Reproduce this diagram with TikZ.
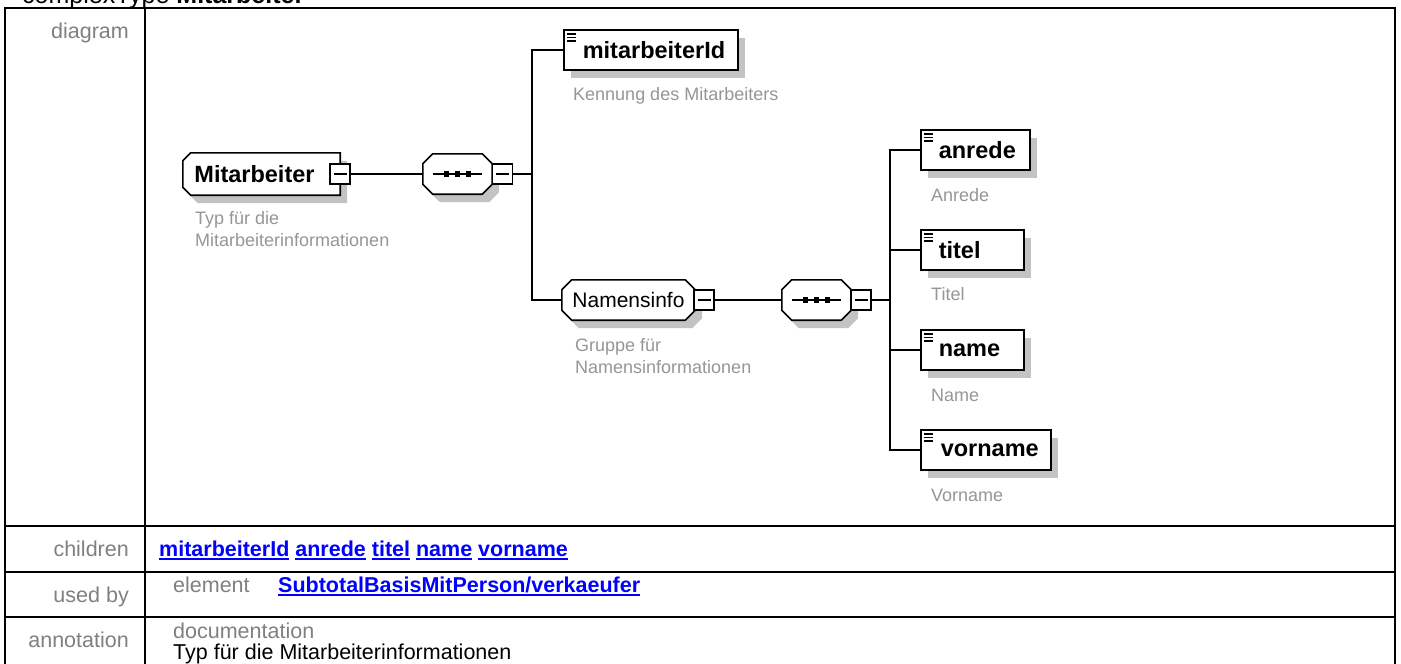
\documentclass[tikz,border=0pt]{standalone}
\usepackage{fontspec}
\setmainfont{Liberation Sans}
\usetikzlibrary{shadows}
\pgfdeclarelayer{background}
\pgfsetlayers{background,main}
\definecolor{descgray}{RGB}{150,150,150}
\definecolor{labgray}{RGB}{128,128,128}
\definecolor{linkblue}{RGB}{0,0,255}
\definecolor{shadowgray}{RGB}{195,195,195}
\newcommand\lnk[1]{\setbox0=\hbox{#1}\rlap{\rule[-3.5pt]{\wd0}{1.8pt}}\box0\relax}
% beveled outline on all four corners: node name, bevel
\newcommand\octoshape[2]{\draw[outl] ([xshift=#2]#1.north west) -- ([xshift=-#2]#1.north east)
  -- ([yshift=-#2]#1.north east) -- ([yshift=#2]#1.south east) -- ([xshift=-#2]#1.south east)
  -- ([xshift=#2]#1.south west) -- ([yshift=#2]#1.south west) -- ([yshift=-#2]#1.north west) -- cycle;}
% beveled outline on the left corners only
\newcommand\leftbevel[2]{\draw[outl] ([xshift=#2]#1.north west) -- (#1.north east) -- (#1.south east)
  -- ([xshift=#2]#1.south west) -- ([yshift=#2]#1.south west) -- ([yshift=-#2]#1.north west) -- cycle;}
\tikzset{
  shd/.style={general shadow={fill=shadowgray, shadow xshift=7pt, shadow yshift=-8pt}},
  outl/.style={draw=black, line width=1.6pt, fill=white, shd},
  elem/.style={rectangle, draw=black, line width=1.6pt, fill=white, minimum height=40pt,
    inner xsep=0pt, inner ysep=0pt, align=left, anchor=west, shd,
    font=\fontsize{23.5pt}{27pt}\selectfont\bfseries,
    path picture={\foreach \k in {4,7.5,11}
      \draw[black, line width=1.4pt] ([xshift=3pt,yshift=-\k pt]path picture bounding box.north west) -- ++(9pt,0pt);}},
  desc/.style={anchor=west, inner sep=0pt, text=descgray, align=left,
    font=\fontsize{18pt}{22pt}\selectfont},
  seqbox/.style={rectangle, minimum width=69pt, minimum height=40pt, inner sep=0pt},
  ctype/.style={rectangle, minimum width=157pt, minimum height=42pt, inner sep=0pt,
    font=\fontsize{23.5pt}{27pt}\selectfont\bfseries},
  grp/.style={rectangle, minimum width=133pt, minimum height=40pt, inner sep=0pt,
    font=\fontsize{21pt}{25pt}\selectfont},
  minus/.style={rectangle, draw=black, line width=1.3pt, fill=white, minimum size=20pt, inner sep=0pt,
    path picture={\draw[black, line width=1.1pt] ([xshift=3.5pt]path picture bounding box.west) -- ([xshift=-3.5pt]path picture bounding box.east);}},
  conn/.style={line width=1.4pt, draw=black},
  tab/.style={line width=1.6pt, draw=black},
  lab/.style={anchor=base east, inner sep=0pt, text=labgray, font=\fontsize{21.5pt}{25pt}\selectfont},
  gtxt/.style={anchor=base west, inner sep=0pt, text=labgray, font=\fontsize{21.5pt}{25pt}\selectfont},
  link/.style={anchor=base west, inner sep=0pt, text=linkblue, font=\fontsize{21.5pt}{25pt}\selectfont\bfseries},
}
\newcommand\seqsymbol[1]{%
  \draw[line width=1.3pt] ([xshift=10pt]#1.west) -- ([xshift=-10pt]#1.east);
  \foreach \d in {-11,0,11}
    \fill[black] ([xshift=\d pt]#1.center) +(-2.8pt,-2.8pt) rectangle +(2.8pt,2.8pt);}
\begin{document}
\begin{tikzpicture}[x=1pt,y=-1pt]
\useasboundingbox (0,0) rectangle (1401,664);
\begin{pgfonlayer}{background}
\fill[white] (0,0) rectangle (1401,664);
\end{pgfonlayer}
% title (clipped at top)
\node[anchor=base west, inner sep=0pt, font=\fontsize{25pt}{29pt}\selectfont] (title) at (22,3) {complexType \textbf{Mitarbeiter}};
% table
\draw[tab] (5,690) -- (5,8) -- (1395,8) -- (1395,690);
\draw[tab] (145,8) -- (145,690);
\draw[tab] (5,526) -- (1395,526);
\draw[tab] (5,572) -- (1395,572);
\draw[tab] (5,617) -- (1395,617);
\node[lab] (l1) at (129,38) {diagram};
\node[lab] (l2) at (129,556) {children};
\node[lab] (l3) at (129,602) {used by};
\node[lab] (l4) at (129,647) {annotation};
\node[link] (ch) at (159,556) {\lnk{mitarbeiterId} \lnk{anrede} \lnk{titel} \lnk{name} \lnk{vorname}};
\node[gtxt] (el) at (173,592) {element};
\node[link] (ub) at (278,592) {\lnk{SubtotalBasisMitPerson/verkaeufer}};
\node[gtxt] (doc) at (173,638) {documentation};
\node[anchor=base west, inner sep=0pt, font=\fontsize{21.5pt}{25pt}\selectfont] (doctxt) at (173,659) {Typ für die Mitarbeiterinformationen};

% diagram nodes
\node[ctype] (ma) at (261.5,174) {Mitarbeiter\hspace*{14pt}};
\node[desc] (mad) at (195,229) {Typ für die\\Mitarbeiterinformationen};
\node[seqbox] (s1) at (457.5,174) {};
\coordinate (t1) at (532,174);

\node[elem, text width=174pt] (mid) at (563,50) {\hspace*{19pt}mitarbeiterId};
\node[desc] (midd) at (573,96) {Kennung des Mitarbeiters};

\node[grp] (ni) at (628.5,300) {Namensinfo};
\node[desc] (nid) at (575,356) {Gruppe für\\Namensinformationen};
\node[seqbox] (s2) at (816.5,300) {};
\coordinate (t2) at (890,300);

\node[elem, text width=109pt] (an) at (920,150) {\hspace*{18pt}anrede};
\node[desc] (and) at (931,195) {Anrede};
\node[elem, text width=103pt] (ti) at (920,250) {\hspace*{18pt}titel};
\node[desc] (tid) at (931,294) {Titel};
\node[elem, text width=103pt] (na) at (920,350) {\hspace*{18pt}name};
\node[desc] (nad) at (931,395) {Name};
\node[elem, text width=130pt] (vo) at (920,450) {\hspace*{20pt}vorname};
\node[desc] (vod) at (931,495) {Vorname};

% outlines of the compositor, group and type shapes
\begin{pgfonlayer}{background}
\leftbevel{ma}{8pt}
\octoshape{s1}{10pt}
\octoshape{ni}{10pt}
\octoshape{s2}{10pt}
\end{pgfonlayer}
\seqsymbol{s1}
\seqsymbol{s2}

% expand/collapse boxes
\node[minus] (m0) at (340,174) {};
\node[minus] (m1) at (502.5,174) {};
\node[minus] (m2) at (704,300) {};
\node[minus] (m3) at (861,300) {};

% connectors
\draw[conn] (m0.east) -- (s1.west);
\draw[conn] (m1.east) -- (t1);
\draw[conn] (t1) |- (mid.west);
\draw[conn] (t1) |- (ni.west);
\draw[conn] (m2.east) -- (s2.west);
\draw[conn] (m3.east) -- (t2);
\draw[conn] (t2) |- (an.west);
\draw[conn] (t2) |- (ti.west);
\draw[conn] (t2) |- (na.west);
\draw[conn] (t2) |- (vo.west);
\end{tikzpicture}
\end{document}
